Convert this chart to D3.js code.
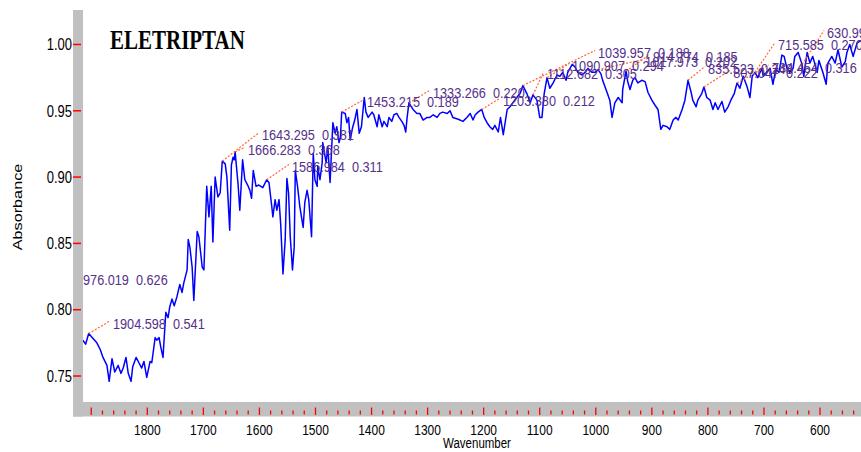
<!DOCTYPE html>
<html>
<head>
<meta charset="utf-8">
<script src="https://cdn.jsdelivr.net/npm/d3@7/dist/d3.min.js"></script>
<style>
  html, body { margin: 0; padding: 0; background: #fff; overflow: hidden; }
  svg text { white-space: pre; }
</style>
</head>
<body>
<svg id="chart" width="861" height="452"></svg>
<script>
// IR spectrum of eletriptan: [wavenumber (cm-1), absorbance]
const spectrum = [
  [1915,.777],[1910,.774],[1904.6,.782],[1890,.775],[1884,.770],[1879,.764],[1872,.758],[1868,.746],
  [1863,.763],[1858,.753],[1852,.758],[1847,.752],[1843,.756],[1838,.764],[1834,.752],[1829,.746],
  [1826,.757],[1820,.764],[1815,.760],[1810,.756],[1806,.761],[1801,.749],[1795,.761],[1792,.760],
  [1786,.779],[1783,.777],[1779,.779],[1776,.772],[1772,.764],[1767,.798],[1763,.794],[1760,.802],
  [1756,.808],[1752,.803],[1747,.810],[1742,.819],[1738,.813],[1735,.820],[1729,.830],[1727,.853],
  [1724,.847],[1720,.832],[1717,.807],[1711,.859],[1708,.855],[1702,.832],[1699,.830],[1694,.893],
  [1690,.870],[1686,.893],[1683,.851],[1679,.900],[1674,.885],[1670,.888],[1666.3,.912],[1661,.910],
  [1658,.900],[1653,.860],[1650,.909],[1647,.915],[1645,.913],[1643.3,.919],[1638,.894],[1635,.875],
  [1630,.913],[1626,.898],[1621,.894],[1617,.890],[1614,.884],[1611,.905],[1606,.893],[1601,.894],
  [1594,.892],[1587,.898],[1583,.896],[1578,.878],[1576,.870],[1572,.883],[1569,.875],[1565,.883],
  [1562,.864],[1558,.827],[1554,.853],[1551,.899],[1548,.888],[1545,.855],[1541,.830],[1538,.847],
  [1536,.905],[1532,.893],[1528,.878],[1522,.862],[1519,.881],[1515,.890],[1512,.883],[1507,.855],
  [1504,.918],[1501,.898],[1497,.893],[1496,.908],[1492,.898],[1488,.911],[1487,.926],[1481,.911],
  [1478,.923],[1474,.896],[1471,.923],[1469,.941],[1465,.933],[1462,.938],[1458,.926],[1455.5,.930],
  [1453.2,.949],[1447,.948],[1444,.941],[1441,.945],[1438,.928],[1434,.937],[1430,.943],[1426,.951],
  [1422,.933],[1418,.938],[1413,.960],[1410,.949],[1406,.945],[1399,.949],[1396,.947],[1390,.938],
  [1387,.947],[1381,.938],[1378,.942],[1372,.938],[1369,.945],[1364,.942],[1360,.947],[1355,.948],
  [1351,.945],[1346,.942],[1342,.939],[1339,.934],[1336.5,.945],[1333.3,.956],[1326,.951],[1319,.948],
  [1314,.948],[1308,.943],[1301,.945],[1296,.945],[1290,.947],[1283,.945],[1278,.948],[1273,.949],
  [1265,.948],[1260,.950],[1255,.945],[1248,.944],[1242,.943],[1237,.942],[1230,.945],[1224,.948],
  [1219,.943],[1215,.947],[1210,.949],[1203.4,.951],[1199,.945],[1194,.941],[1189,.938],[1184,.936],
  [1180,.939],[1174,.934],[1170,.945],[1165,.932],[1158,.951],[1153,.953],[1148,.956],[1141,.960],
  [1135,.963],[1130,.969],[1123,.963],[1117,.956],[1112,.962],[1105,.958],[1100,.945],[1096,.945],
  [1092,.963],[1087,.975],[1082,.967],[1076,.971],[1069,.977],[1064,.976],[1059,.979],[1053,.973],
  [1050,.979],[1042,.985],[1037,.983],[1032,.979],[1025,.977],[1019,.979],[1014,.982],[1007,.979],
  [1001,.979],[996,.981],[991,.978],[987,.972],[980,.964],[975,.958],[971,.945],[966,.956],
  [960,.960],[953,.956],[952,.966],[946,.980],[943,.972],[939,.966],[934,.973],[930,.975],
  [925,.971],[918,.973],[912,.972],[907,.964],[900,.958],[894,.954],[889,.951],[884,.936],
  [880,.939],[873,.938],[868,.936],[862,.943],[857,.945],[853,.943],[846,.951],[841,.958],
  [835.5,.973],[830,.964],[827,.958],[821,.953],[818,.958],[811,.963],[807,.968],[802,.960],
  [796,.958],[791,.951],[787,.956],[782,.951],[775,.957],[770,.949],[764,.953],[759,.958],
  [753,.963],[748,.971],[743,.967],[737,.976],[730,.968],[725,.960],[721,.976],[716,.979],
  [711,.975],[704,.982],[701,.976],[695,.979],[689,.982],[684,.970],[679,.981],[673,.979],
  [668,.992],[664,.991],[659,.982],[654,.979],[648,.982],[645,.991],[639,.994],[632,.985],
  [629,.976],[623,.994],[618,.986],[613,.991],[605,.979],[602,.988],[595,.979],[589,.970],
  [586,.986],[579,.991],[573,.986],[568,.996],[561,.983],[555,.987],[552,.994],[547,1.000],
  [541,.991],[534,1.001],[527,1.003]
];

// Peak-pick annotations: label text, wavenumber the leader starts from, label anchor [wn, abs]
const peakText = [
  "1976.019  0.626", "1904.598  0.541", "1643.295  0.381", "1666.283  0.368",
  "1586.984  0.311", "1453.215  0.189", "1333.266  0.220", "1203.380  0.212",
  "1112.682  0.305", "1090.907  0.294", "1039.957  0.188", "1017.973  0.202",
  "914.774  0.185", "835.523  0.248", "807.047  0.222", "734.454  0.316",
  "715.585  0.270", "630.995  0.290"
];
const leaderFrom = [
  1976.019, 1904.6, 1666.3, 1643.3,
  1587, 1453.2, 1333.3, 1203.4,
  1112, 1087, 1130, 996,
  946, 835.5, 807, 748,
  716, 632
];
const labelAt = [
  [1927.2,.823],[1861.2,.790],[1595.4,.932],[1620.4,.921],
  [1541.9,.908],[1408.1,.957],[1290.4,.964],[1165.5,.958],
  [1087,.978],[1042.4,.984],[996,.994],[912,.987],
  [898,.991],[799.8,.982],[755,.979],[685.6,.983],
  [674.9,1.000],[587.5,1.009]
];

const xMajorTicks = [1900,1800,1700,1600,1500,1400,1300,1200,1100,1000,900,800,700,600];
const xTickLabels = ["","1800","1700","1600","1500","1400","1300","1200","1100","1000","900","800","700","600"];
const yTicks = [0.75,0.80,0.85,0.90,0.95,1.00];
const yTickLabels = ["0.75","0.80","0.85","0.90","0.95","1.00"];

const svg = d3.select("#chart");
const plot = { left: 83, right: 861, top: 10, bottom: 402 };
const x = d3.scaleLinear().domain([1914.7, 526.9]).range([plot.left, plot.right]);
const y = d3.scaleLinear().domain([0.7304, 1.026]).range([plot.bottom, plot.top]);
const sy = 1.22;   // vertical stretch of the lettering
const sansFont = "'Liberation Sans', Arial, sans-serif";

svg.append("defs").append("clipPath").attr("id", "plotClip")
  .append("rect").attr("x", plot.left).attr("y", 0)
  .attr("width", plot.right - plot.left).attr("height", plot.bottom);

const inner = svg.append("g").attr("clip-path", "url(#plotClip)");

// spectrum trace
inner.append("path")
  .datum(spectrum)
  .attr("fill", "none")
  .attr("stroke", "#0000ff")
  .attr("stroke-width", 1.5)
  .attr("stroke-linejoin", "round")
  .attr("d", d3.line().x(d => x(d[0])).y(d => y(d[1])));

// absorbance along the trace, for leader start points
const curveAt = wn => {
  const i = spectrum.findIndex(d => d[0] <= wn);
  if (i <= 0) return i === 0 ? spectrum[0][1] : null;
  const a = spectrum[i - 1], b = spectrum[i];
  return a[1] + (b[1] - a[1]) * (a[0] - wn) / (a[0] - b[0]);
};

const notes = peakText.map((t, i) => ({ text: t, from: leaderFrom[i], at: labelAt[i] }));

inner.selectAll("line.leader")
  .data(notes.filter(n => n.from <= spectrum[0][0]))
  .join("line")
  .attr("class", "leader")
  .attr("x1", n => x(n.from)).attr("y1", n => y(curveAt(n.from)))
  .attr("x2", n => x(n.at[0]) - 3).attr("y2", n => y(n.at[1]) - 2)
  .attr("stroke", "#ff6633")
  .attr("stroke-width", 1.2)
  .attr("stroke-dasharray", "2,1.6");

inner.selectAll("text.peak")
  .data(notes)
  .join("text")
  .attr("class", "peak")
  .attr("transform", n => `translate(${x(n.at[0])},${y(n.at[1])}) scale(1,${sy})`)
  .attr("dy", "0.36em")
  .attr("font-family", sansFont)
  .attr("font-size", 12.7)
  .attr("fill", "#55308a")
  .text(n => n.text);

// frame: gray bars along the left and bottom
svg.append("rect").attr("x", 73).attr("y", 10).attr("width", 10).attr("height", 406.5).attr("fill", "#c0c0c0");
svg.append("rect").attr("x", 73).attr("y", plot.bottom).attr("width", 861 - 73).attr("height", 14.5).attr("fill", "#c0c0c0");

// y ticks and labels
svg.selectAll("line.ytick").data(yTicks).join("line")
  .attr("x1", 73).attr("x2", 81)
  .attr("y1", d => y(d)).attr("y2", d => y(d))
  .attr("stroke", "#ff0000").attr("stroke-width", 1.5);
svg.selectAll("text.ylab").data(yTicks).join("text")
  .attr("transform", d => `translate(72,${y(d)}) scale(1,${sy})`)
  .attr("dy", "0.36em").attr("text-anchor", "end")
  .attr("font-family", sansFont).attr("font-size", 13).attr("fill", "#000")
  .text((d, i) => yTickLabels[i]);

// x ticks: majors every 100, minors every 20
const xMinor = d3.range(1900, 520, -20).filter(v => !xMajorTicks.includes(v));
svg.selectAll("line.xminor").data(xMinor).join("line")
  .attr("x1", d => x(d)).attr("x2", d => x(d))
  .attr("y1", 410.5).attr("y2", 414.5)
  .attr("stroke", "#ff0000").attr("stroke-width", 1.3);
svg.selectAll("line.xmajor").data(xMajorTicks).join("line")
  .attr("x1", d => x(d)).attr("x2", d => x(d))
  .attr("y1", 407.5).attr("y2", 415)
  .attr("stroke", "#ff0000").attr("stroke-width", 1.3);
svg.selectAll("text.xlab").data(xMajorTicks).join("text")
  .attr("transform", d => `translate(${x(d)},430) scale(1,${sy})`)
  .attr("dy", "0.36em").attr("text-anchor", "middle")
  .attr("font-family", sansFont).attr("font-size", 12).attr("fill", "#000")
  .text((d, i) => xTickLabels[i]);

// axis titles
svg.append("text")
  .attr("transform", `translate(477,442.5) scale(1,${sy})`)
  .attr("dy", "0.36em").attr("text-anchor", "middle")
  .attr("font-family", sansFont).attr("font-size", 11.5).attr("fill", "#000")
  .text("Wavenumber");
svg.append("text")
  .attr("transform", `translate(17.5,207) rotate(-90) scale(1.25,1)`)
  .attr("dy", "0.36em").attr("text-anchor", "middle")
  .attr("font-family", sansFont).attr("font-size", 13).attr("fill", "#000")
  .text("Absorbance");

// title
svg.append("text")
  .attr("transform", "translate(110,49) scale(1,1.33)")
  .attr("font-family", "'Liberation Serif', 'Times New Roman', serif")
  .attr("font-weight", "bold").attr("font-size", 21).attr("fill", "#000")
  .text("ELETRIPTAN");
</script>
</body>
</html>
